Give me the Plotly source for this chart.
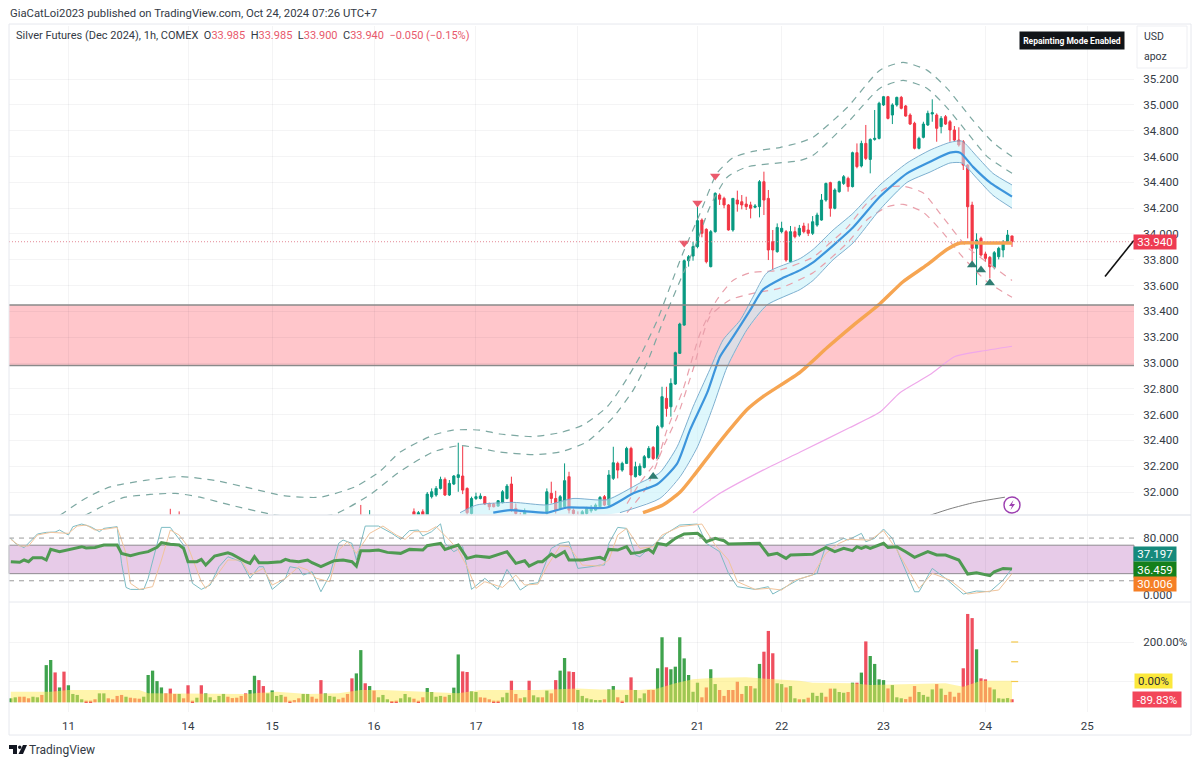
import plotly.graph_objects as go

# ---------- candles (bar index 91..226 + a few earlier tips) ----------
early_x = [36, 38, 79, 81]
early_open = [31.81, 31.80, 31.82, 31.76]
early_high = [31.87, 31.85, 31.90, 31.86]
early_low = [31.70, 31.70, 31.72, 31.70]
early_close = [31.75, 31.74, 31.76, 31.81]

candle_open = [
 31.847,31.80,31.847,31.81,31.964,31.977,32.028,32.098,31.977,32.062,
 32.113,32.124,32.028,31.834,31.95,31.95,31.964,31.912,31.907,31.891,
 31.917,31.95,32.062,31.873,31.81,31.81,31.79,31.75,31.78,31.74,
 31.834,31.99,31.95,31.873,31.886,32.119,31.86,31.82,31.81,31.834,
 31.855,31.86,31.886,31.964,31.899,32.106,32.222,32.17,32.222,32.338,
 32.119,32.132,32.191,32.268,32.346,32.26,32.506,32.726,32.661,32.837,
 33.075,33.294,33.793,33.829,33.902,34.108,34.036,33.747,34.018,34.302,
 34.276,34.225,34.031,34.263,34.25,34.232,34.225,34.207,34.212,34.405,
 34.276,33.94,33.863,34.018,34.018,33.785,34.018,33.992,34.062,34.031,
 34.005,34.069,34.108,34.263,34.398,34.199,34.328,34.392,34.431,34.367,
 34.63,34.527,34.702,34.578,34.733,34.741,35.0,35.064,34.922,35.0,
 35.059,34.992,34.922,34.858,34.664,34.749,34.845,34.93,34.922,34.832,
 34.909,34.87,34.806,34.728,34.715,34.534,34.224,33.889,33.966,33.845,
 33.819,33.741,33.824,33.876,33.927,33.985]
candle_high = [
 31.873,31.853,31.866,32.0,32.028,32.046,32.119,32.113,32.093,32.132,
 32.382,32.356,32.036,31.964,31.995,31.99,31.969,31.917,31.912,31.938,
 32.015,32.062,32.119,31.912,31.84,31.873,31.80,31.79,31.79,31.80,
 32.028,32.08,32.01,31.977,32.222,32.157,31.873,31.85,31.86,31.886,
 31.899,31.912,31.969,31.977,32.17,32.351,32.235,32.235,32.351,32.351,
 32.235,32.222,32.287,32.356,32.356,32.519,32.816,32.816,32.881,33.088,
 33.312,33.803,33.837,33.94,34.25,34.121,34.044,34.031,34.323,34.315,
 34.289,34.232,34.276,34.336,34.302,34.289,34.25,34.232,34.418,34.483,
 34.341,34.031,34.082,34.095,34.031,34.062,34.056,34.07,34.087,34.082,
 34.139,34.165,34.31,34.398,34.405,34.354,34.413,34.457,34.444,34.638,
 34.702,34.723,34.845,34.741,34.961,35.025,35.07,35.07,35.013,35.064,
 35.07,35.0,34.935,34.87,34.754,34.87,34.956,35.044,34.935,34.914,
 34.922,34.883,34.837,34.827,34.728,34.542,34.25,34.005,33.979,33.863,
 33.829,33.868,33.901,33.953,34.031,33.985]
candle_low = [
 31.78,31.78,31.78,31.79,31.95,31.964,32.02,31.969,31.969,32.054,
 32.002,31.984,31.80,31.80,31.938,31.943,31.899,31.86,31.881,31.886,
 31.912,31.943,31.847,31.80,31.77,31.79,31.75,31.73,31.72,31.72,
 31.80,31.912,31.834,31.86,31.873,31.834,31.81,31.79,31.79,31.81,
 31.84,31.855,31.881,31.891,31.891,32.093,32.106,32.157,32.217,31.977,
 32.113,32.124,32.183,32.26,32.248,32.253,32.493,32.584,32.584,32.83,
 33.07,33.289,33.747,33.793,33.889,33.974,33.772,33.741,34.01,34.225,
 34.199,34.026,34.018,34.173,34.191,34.186,34.121,34.199,34.129,34.147,
 33.798,33.72,33.855,34.005,33.785,33.777,33.966,33.979,34.005,33.984,
 33.992,34.056,34.103,34.25,34.134,34.191,34.32,34.38,34.328,34.361,
 34.509,34.516,34.573,34.47,34.723,34.733,34.992,34.888,34.852,34.987,
 34.966,34.909,34.845,34.656,34.656,34.741,34.837,34.87,34.715,34.78,
 34.845,34.715,34.715,34.677,34.496,33.966,33.772,33.604,33.824,33.785,
 33.656,33.726,33.803,33.819,33.922,33.90]
candle_close = [
 31.80,31.84,31.80,31.984,32.002,32.028,32.098,31.977,32.067,32.124,
 32.134,32.015,31.84,31.95,31.964,31.969,31.907,31.886,31.886,31.933,
 32.002,32.046,31.86,31.834,31.79,31.847,31.77,31.78,31.74,31.79,
 32.002,31.95,31.86,31.964,32.088,31.86,31.834,31.80,31.847,31.873,
 31.873,31.899,31.958,31.899,32.132,32.227,32.17,32.222,32.338,32.132,
 32.196,32.201,32.274,32.338,32.26,32.506,32.739,32.648,32.842,33.08,
 33.302,33.793,33.824,33.902,34.103,34.005,33.785,34.018,34.315,34.269,
 34.225,34.031,34.276,34.232,34.225,34.212,34.199,34.217,34.405,34.263,
 33.876,33.876,34.051,34.044,33.798,34.018,33.979,34.044,34.018,34.005,
 34.095,34.147,34.263,34.392,34.199,34.341,34.405,34.444,34.367,34.63,
 34.522,34.702,34.586,34.733,34.741,35.013,35.064,34.896,35.0,35.059,
 34.974,34.914,34.852,34.664,34.741,34.852,34.935,34.94,34.819,34.896,
 34.852,34.806,34.728,34.69,34.534,34.211,33.889,33.953,33.837,33.811,
 33.746,33.855,33.889,33.94,33.992,33.94]

# ---------- overlay lines: bar index, price ----------
env_outer_up_x = [11.1,16.8,22.4,30.3,38.2,46.1,54,61.9,69.8,77.7,83.3,87.9,95.3,99.8,106,110.4,117.9,124,129.2,134.6,138.2,142,145.9,148.8,151.7,155.6,159.4,163,167.5,173.6,178.2,181.1,188.8,196.2,201.4,206.8,211.3,217.2,221.7,226]
env_outer_up = [31.82,31.95,32.04,32.09,32.12,32.09,32.03,31.97,31.96,32.04,32.16,32.31,32.44,32.48,32.48,32.45,32.43,32.46,32.52,32.66,32.83,33.05,33.33,33.59,33.85,34.16,34.47,34.59,34.64,34.67,34.71,34.75,34.98,35.27,35.33,35.27,35.13,34.88,34.71,34.60]
env_inner_up_x = [16.8,21.3,25.8,37.1,42.7,49.5,58.5,65.3,73.2,81.1,87.9,95.3,101.4,110.4,117.9,124,130.1,136,140.5,143.6,147.3,151.1,155,157.8,161.7,166.2,178.2,181.1,188.8,196.2,201.4,206.8,211.3,215.8,220.4,226]
env_inner_up = [31.82,31.90,31.96,31.99,31.96,31.90,31.83,31.80,31.83,31.98,32.16,32.31,32.36,32.31,32.29,32.31,32.39,32.58,32.79,33.0,33.33,33.64,33.95,34.21,34.44,34.52,34.57,34.61,34.86,35.13,35.19,35.13,34.98,34.79,34.60,34.47]
env_inner_dn_x = [139.1,142,145.9,148.1,151.7,155.6,159.4,163,166.9,170.7,173.6,181.1,184.9,188.8,193.3,197.8,201.4,205.9,210.4,215.8,220.4,226]
env_inner_dn = [31.91,32.07,32.25,32.48,32.79,33.23,33.49,33.64,33.70,33.71,33.72,33.82,33.93,34.05,34.24,34.36,34.37,34.32,34.13,33.90,33.78,33.64]
env_outer_dn_x = [139.1,143.6,147.3,150.4,154,157.8,162.4,167.5,173.6,181.1,188.8,193.3,197.8,201.4,205.9,210.4,214.9,220.4,226]
env_outer_dn = [31.84,32.04,32.35,32.58,32.95,33.36,33.49,33.54,33.58,33.70,33.93,34.11,34.21,34.23,34.17,34.01,33.82,33.63,33.51]
basis_x = [108.9,112.7,121,125.6,134.6,140.5,145.9,150.4,153.3,157.2,160.1,163,166.9,169.8,174.3,178.2,181.1,185.6,190.1,196.2,202.3,207.5,212,214.3,217.2,221,226]
basis = [31.84,31.86,31.84,31.88,31.88,31.99,32.06,32.22,32.48,32.77,33.05,33.20,33.41,33.57,33.66,33.72,33.78,33.91,34.05,34.29,34.47,34.56,34.63,34.63,34.52,34.40,34.29]
band_up_x = [101.4,105.2,113.4,121,126.9,134.6,142,146.5,150.4,154,157.8,160.8,164.6,167.5,170.7,178.2,181.1,185.6,190.1,196.2,202.3,207.5,212,214.7,218.1,221.7,226]
band_up = [31.84,31.90,31.92,31.90,31.95,31.94,32.07,32.15,32.35,32.66,32.95,33.18,33.33,33.51,33.70,33.81,33.88,34.03,34.16,34.38,34.55,34.65,34.71,34.72,34.60,34.47,34.38]
band_dn_x = [101.4,120,137.5,146.5,151.1,155,158.5,161.7,166.2,170.7,178.2,181.1,185.6,190.1,196.2,202.3,207.5,212,214.7,218.1,221.7,226]
band_dn = [31.70,31.75,31.84,31.95,32.12,32.35,32.66,32.97,33.26,33.45,33.57,33.64,33.80,33.93,34.19,34.40,34.48,34.55,34.55,34.43,34.30,34.20]
ma_orange_x = [142.7,147.2,151.1,154,157.8,161.7,166.2,169.8,178.2,184.3,190.1,196.2,201.4,206.8,211.3,214.3,218.8,226]
ma_orange = [31.84,31.90,32.0,32.12,32.29,32.46,32.64,32.74,32.93,33.12,33.29,33.46,33.63,33.76,33.88,33.93,33.93,33.93]
ma_pink_x = [154,160.1,169.8,178.2,189.4,196.2,200.7,207.5,213.1,218.8,226]
ma_pink = [31.84,31.99,32.17,32.31,32.50,32.62,32.77,32.91,33.05,33.09,33.13]
ma_grey_x = [207.5,212,217.6,224.4]
ma_grey = [31.82,31.87,31.92,31.96]

sell_x = [152, 155, 159]
sell_y = [33.93, 34.24, 34.45]
buy_x = [145, 217, 219, 221]
buy_y = [32.12, 33.76, 33.72, 33.62]

zone_top, zone_bottom = 33.45, 32.98
last_price = 33.94
trend_x = [247, 253.5]
trend_y = [33.67, 33.95]

# ---------- oscillator pane ----------
rsi_x = [0,2,3,4,5,7,8,9,11,13,15,16,17,19,21,24,25,27,29,31,33,34,36,38,39,40,42,43,44,45,46,49,50,53,54,55,56,58,61,62,63,65,67,68,70,72,73,75,77,78,79,81,83,85,88,90,91,93,94,97,98,101,103,105,108,112,114,116,117,119,120,122,123,125,126,129,133,
         134,135,137,139,140,142,144,145,146,148,150,152,155,156,157,159,161,162,166,169,171,173,175,176,181,183,184,186,188,190,191,192,193,194,197,198,200,202,204,207,209,211,214,216,218,221,222,224,226]
rsi_v = [46.8,45.9,49.2,46.8,52.4,52.4,49.2,64.1,60.9,64.1,66.9,67.9,66,66.9,70.2,70.2,58.5,55.2,58.5,60.9,66.9,73.5,71.2,70.2,65.5,46.8,46.8,50.1,42.1,49.2,54.8,59.4,57.1,46.8,44.5,53.8,45.4,45.4,46.8,50.1,48.2,46.8,49.2,45.4,39.8,45.4,48.2,49.2,46.8,40.7,62.3,62.3,63.2,59.9,58.5,64.1,64.1,63.2,69.3,72.6,64.1,70.2,51.5,54.8,52.9,60.9,44.5,48.2,40.7,46.8,46.8,57.6,53.8,60.9,49.2,49.2,52.9,
         50.1,64.1,63.2,67.9,58.5,59.9,64.1,59.4,72.6,70.2,79.6,85.7,86.6,81.9,74.9,79.6,76.3,71.6,71.6,72.6,56.2,58.5,51.5,56.2,57.1,63.2,66.9,60.9,65.5,62.3,67.9,65.5,67.9,65.5,72.6,66.9,67.9,60.9,52.9,60.9,56.2,56.2,49.2,29.5,31.3,27.1,32.7,37.4,36.46]
stoch_k_x = [0,1,3,4,6,8,10,11,13,14,16,18,20,21,24,25,26,27,30,31,33,34,36,37,39,41,43,45,47,49,52,54,56,57,59,62,63,65,66,68,70,72,74,75,77,78,80,83,86,88,90,92,93,95,97,98,100,102,104,107,110,112,115,117,119,122,124,126,128,131,133,
             134,135,137,139,141,142,144,146,148,151,155,157,160,162,164,168,171,172,175,178,182,184,186,188,189,192,193,195,197,199,201,203,204,205,208,211,215,218,221,224,226]
stoch_k = [79.6,72.6,66.5,72.6,85.7,88,88.5,91.3,84.3,96,99.7,96,89,93.6,96,44.5,10.7,7.9,7.9,23.4,72.6,95,95,86.6,70.2,16.4,7.9,14,39.8,53.8,46.8,23.4,39.8,39.8,7.9,23.4,39.8,37.4,28,32.7,4.6,28,72.6,77.2,72.6,49.2,96.9,96.9,86.6,78.2,90.4,91.3,82.9,89,100,72.6,60.9,67.9,7.9,23.4,7.9,36,7,15.4,17.3,65.5,72.6,74.9,37.4,39.8,42.1,
           42.1,72.6,95,93.6,56.2,53.8,65.5,74.9,86.6,98.3,99.7,72.6,60.9,30.4,11.7,7.9,11.7,1.4,11.7,22.4,30.4,70.2,73.5,79.6,77.2,86.6,74.9,79.6,92.7,79.6,49.2,18.7,4.6,4.6,37.4,23.4,1.4,5.6,4.6,21,37.2]
stoch_d_x = [0,2,4,6,9,11,13,15,17,19,21,24,26,27,29,32,34,36,38,40,43,44,46,49,52,54,57,59,62,65,67,69,72,74,76,78,81,84,87,89,91,94,96,99,101,103,105,107,111,114,116,119,121,124,126,129,133,
             135,137,139,142,145,147,151,156,159,162,164,168,171,174,177,181,184,187,189,194,197,200,203,205,208,212,216,220,223,226]
stoch_d = [78.2,68.8,68.8,84.3,88,87.5,86.6,96.9,98.3,91.3,92.2,95,58.5,16.4,7.9,11.7,49.2,91.3,84.3,67.9,18.7,9.3,23.4,49.2,49.2,28,37.4,14,23.4,39.8,35.1,23.4,18.7,63.2,74.9,58.5,86.6,96.9,84.3,78.2,89,89,96,77.2,63.2,39.8,9.3,18.7,10.7,28,14,15.4,39.8,68.8,67.9,42.1,40.7,
           49.2,84.3,93.6,65.5,67.9,84.3,96,99.7,70.2,49.2,18.7,7.9,9.3,7,21,28,58.5,72.6,78.2,77.2,90.4,63.2,30.4,9.3,30.4,21,1.4,4.6,7,30.0]

# ---------- volume pane (percent, by bar index 0..226) ----------
volume_pct = [
 -85,-80,-77,-77,-85,-77,-80,-68,83,109, 46,-30,50,-19,-63,-68,-90,-97,-97,-90,
 -60,-60,-85,-90,-73,-68,-77,-82,-85,-87, -77,33,55,2,-30,-60,-36,-63,-63,-85,
 -19,-97,-82,-19,-60,-80,-94,-73,-63,-77, -84,-82,-73,-60,-43,29,7,-23,-60,-45,
 -73,-68,-77,-97,-94,-85,-63,-63,-77,-87, 7,-60,-73,-77,-90,-82,-63,16,41,159,
 -9,-23,-46,-80,-68,-90,-99,-97,-85,-63, -80,-87,-97,-80,-33,-53,-77,-73,-77,-68,
 -31,137,51,48,-50,-53,-80,-82,-90,-97, -97,-80,-57,4,-63,-85,-80,4,-70,-80,
 -80,-46,-60,7,55,119,51,48,-43,-73, -85,-90,-94,-94,
 -90,-40,-23,-80,-97,-68,21,-43,-85,-60, -43,-43,67,224,72,62,75,224,117,33,
 -52,-6,-80,-30,62,-13,-43,-73,-43,-43, -1,-63,-23,-23,-35,89,151,256,143,-9,
 -13,-30,-23,-85,-90,-90,-82,-57,-73,-57, -77,-36,-36,-53,-57,-53,-6,-6,45,203,
 129,89,11,7,-35,-18,-80,-85,-89,-77, -23,-53,-68,-77,-40,-13,-36,-68,-52,-77,
 -57,67,342,321,163,16,11,-30,-40,-85, -87,-84,-89.83]
volume_side = list(
 "GGRRRGGRGG" "RGRGGGGRRR" "GGRRRRGRRR" "GGGGGRRRGR" "RRGRGGGGGR" "RRRRGGRRGG"
 "GGRRRRGGRR" "RGGGRRRRGG" "RGRGGGRRGG" "GRRRGGGGRG" "GGRRGGRRRR" "RGGRRRGRGG"
 "RGRRGGRRGG" "GGGG"
 "RGGRRGRGGG" "RRGGRGGGGG" "GGRRGGRRRR" "RRGRGGRRRG" "GRGGRGRGGG" "RRGGGRGRGR"
 "GGGGRGGGRR" "RGGGGRGRRR" "RRRRGRRRGG" "GGR")
volume_floor = -105
vol_ma_x = [0,9,13,29,31,39,53,60,67,74,79,84,93,101,106,119,128,133,142,146,150,154,159,166,169,173,178,181,190,194,211,215,219,226]
vol_ma = [-52,-52,-43,-43,-60,-60,-63,-52,-63,-60,-43,-43,-52,-60,-43,-43,-35,-40,-43,-35,-9,11,19,21,16,11,4,-6,-9,-18,-9,-26,4,4]
vol_scale_marks = [200, 100, 0]

# ---------- axes labels ----------
day_ticks = [13, 40, 59, 82, 105, 128, 155, 174, 197, 220, 243]
day_labels = ["11", "14", "15", "16", "17", "18", "21", "22", "23", "24", "25"]
price_ticks = [32.0,32.2,32.4,32.6,32.8,33.0,33.2,33.4,33.6,33.8,34.0,34.2,34.4,34.6,34.8,35.0,35.2]

# ---------- page geometry ----------
L, R, T, B = 9, 1134, 26, 712
W = R - L
H = B - T
def pxx(x): return (x - L) / W
def pyy(y): return (B - y) / H

GREEN, RED = "#089981", "#f23645"
x_all = list(range(len(volume_pct)))
assert len(volume_pct) == 227 and len(volume_side) == 227
assert len(candle_open) == len(candle_high) == len(candle_low) == len(candle_close) == 136

fig = go.Figure()

def line(x, y, color, width, dash=None, yaxis="y", shape="spline"):
    fig.add_trace(go.Scatter(x=x, y=y, mode="lines", yaxis=yaxis, hoverinfo="skip", showlegend=False,
                             line=dict(color=color, width=width, dash=dash, shape=shape, smoothing=0.6)))

# main pane
fig.add_trace(go.Candlestick(
    x=early_x + list(range(91, 227)),
    open=early_open + candle_open, high=early_high + candle_high,
    low=early_low + candle_low, close=early_close + candle_close,
    increasing=dict(line=dict(color=GREEN, width=1), fillcolor=GREEN),
    decreasing=dict(line=dict(color=RED, width=1), fillcolor=RED),
    whiskerwidth=0, showlegend=False, hoverinfo="skip"))
fig.add_trace(go.Scatter(x=band_up_x + band_dn_x[::-1], y=band_up + band_dn[::-1], mode="lines", fill="toself",
                         fillcolor="rgba(195,240,250,0.55)", line=dict(width=0), hoverinfo="skip", showlegend=False))
line(env_outer_up_x, env_outer_up, "#7da8a2", 1.2, "7px,6px")
line(env_inner_up_x, env_inner_up, "#7da8a2", 1.2, "7px,6px")
line(env_inner_dn_x, env_inner_dn, "#e9a0ab", 1.2, "7px,6px")
line(env_outer_dn_x, env_outer_dn, "#e9a0ab", 1.2, "7px,6px")
line(band_up_x, band_up, "#7fb0d0", 1)
line(band_dn_x[2:], band_dn[2:], "#7fb0d0", 1)
line(basis_x, basis, "#3d95dc", 2.2)
line(ma_orange_x, ma_orange, "#f6a552", 3.4)
line(ma_pink_x, ma_pink, "#efa8ea", 1.2)
line(ma_grey_x, ma_grey, "#7f7f7f", 1)
fig.add_trace(go.Scatter(x=sell_x, y=sell_y, mode="markers", hoverinfo="skip", showlegend=False,
                         marker=dict(symbol="triangle-down", size=9, color="#ea5a6c")))
fig.add_trace(go.Scatter(x=buy_x, y=buy_y, mode="markers", hoverinfo="skip", showlegend=False,
                         marker=dict(symbol="triangle-up", size=9, color="#2f7d72")))
line(trend_x, trend_y, "#111111", 1.6, shape="linear")

# oscillator pane
line(stoch_k_x, stoch_k, "#7dbcc4", 1, yaxis="y2", shape="linear")
line(stoch_d_x, stoch_d, "#f1c49c", 1, yaxis="y2", shape="linear")
line(rsi_x, rsi_v, "#4f9a52", 3, yaxis="y2", shape="linear")

# volume pane
fig.add_trace(go.Bar(x=x_all, y=[v - volume_floor for v in volume_pct], base=volume_floor, yaxis="y3", width=0.74,
                     marker=dict(color=[("#3fa34d" if s == "G" else "#ef4f5f") for s in volume_side], line=dict(width=0)),
                     hoverinfo="skip", showlegend=False))
fig.add_trace(go.Scatter(x=vol_ma_x + vol_ma_x[::-1], y=vol_ma + [volume_floor] * len(vol_ma_x), yaxis="y3", mode="lines",
                         line=dict(width=0), fill="toself", hoverinfo="skip", showlegend=False,
                         fillcolor="rgba(255,236,90,0.5)"))
fig.add_trace(go.Scatter(x=[226.6] * 3, y=vol_scale_marks, yaxis="y3", mode="markers", hoverinfo="skip", showlegend=False,
                         marker=dict(symbol="line-ew", size=5, line=dict(color="#f3c94b", width=1.2))))

GRID = "rgba(42,46,57,0.05)"
TXT = "#2a2e39"
FONT = "Roboto"
axis_font = dict(family=FONT, size=11.5, color="#333a45")

shapes = [
    # zone
    dict(type="rect", xref="paper", yref="y", x0=0, x1=1, y0=zone_bottom, y1=zone_top, layer="below",
         fillcolor="#ffc6cb", line=dict(width=0)),
    dict(type="line", xref="paper", yref="y", x0=0, x1=1, y0=zone_top, y1=zone_top, line=dict(color="#8a8a8a", width=1.5)),
    dict(type="line", xref="paper", yref="y", x0=0, x1=1, y0=zone_bottom, y1=zone_bottom, line=dict(color="#8a8a8a", width=1.5)),
    # last price
    dict(type="line", xref="paper", yref="y", x0=0, x1=1, y0=last_price, y1=last_price, line=dict(color="#e48a96", width=1, dash="1px,2px")),
    # RSI band
    dict(type="rect", xref="paper", yref="y2", x0=0, x1=1, y0=30, y1=70, layer="below",
         fillcolor="#e7cbe8", line=dict(color="#8f8a90", width=1)),
    dict(type="line", xref="paper", yref="y2", x0=0, x1=1, y0=80, y1=80, line=dict(color="#9a9a9a", width=1, dash="5px,5px")),
    dict(type="line", xref="paper", yref="y2", x0=0, x1=1, y0=20, y1=20, line=dict(color="#9a9a9a", width=1, dash="5px,5px")),
    # frames
    dict(type="rect", xref="paper", yref="paper", x0=pxx(9), x1=pxx(1191), y0=pyy(735), y1=pyy(24), line=dict(color="#e6e8ee", width=1)),
    dict(type="line", xref="paper", yref="paper", x0=pxx(9), x1=pxx(1191), y0=pyy(515), y1=pyy(515), line=dict(color="#e6e8ee", width=1.5)),
    dict(type="line", xref="paper", yref="paper", x0=pxx(9), x1=pxx(1191), y0=pyy(602), y1=pyy(602), line=dict(color="#e6e8ee", width=1)),
    # currency box
    dict(type="rect", xref="paper", yref="paper", x0=pxx(1137), x1=pxx(1187), y0=pyy(68), y1=pyy(26), line=dict(color="#eeeff3", width=1)),
    # lightning badge
    dict(type="circle", xref="paper", yref="paper", x0=pxx(1004), x1=pxx(1020), y0=pyy(513), y1=pyy(497), line=dict(color="#9c3fb0", width=1.4)),
    dict(type="path", xref="paper", yref="paper", fillcolor="#9c3fb0", line=dict(width=0),
         path=f"M {pxx(1013.5)} {pyy(500)} L {pxx(1009)} {pyy(506)} L {pxx(1012)} {pyy(506)} L {pxx(1010.5)} {pyy(510)} L {pxx(1015)} {pyy(504)} L {pxx(1012)} {pyy(504)} Z"),
    # logo
    dict(type="path", xref="paper", yref="paper", fillcolor="#131722", line=dict(width=0),
         path=f"M {pxx(9)} {pyy(745)} L {pxx(17)} {pyy(745)} L {pxx(17)} {pyy(754)} L {pxx(13)} {pyy(754)} L {pxx(13)} {pyy(749)} L {pxx(9)} {pyy(749)} Z"),
    dict(type="path", xref="paper", yref="paper", fillcolor="#131722", line=dict(width=0),
         path=f"M {pxx(23)} {pyy(745)} L {pxx(27)} {pyy(745)} L {pxx(23)} {pyy(754)} L {pxx(18.5)} {pyy(754)} Z"),
    dict(type="circle", xref="paper", yref="paper", fillcolor="#131722", line=dict(width=0),
         x0=pxx(18), x1=pxx(21.5), y0=pyy(749), y1=pyy(745.5)),
]

def note(px, py, text, size=11, color=TXT, bg=None, anchor="left", w=None, h=None, align=None):
    a = dict(xref="paper", yref="paper", x=pxx(px), y=pyy(py), text=text, showarrow=False, xanchor=anchor, yanchor="middle",
             font=dict(family=FONT, size=size, color=color), borderpad=0)
    if bg: a["bgcolor"] = bg
    if w: a["width"] = w
    if h: a["height"] = h
    if align: a["align"] = align
    return a

redspan = lambda s: f'<span style="color:#e8596b">{s}</span>'
annotations = [
    note(9, 13, "GiaCatLoi2023 published on TradingView.com, Oct 24, 2024 07:26 UTC+7", 11.3, "#333a45"),
    note(15, 35, "Silver Futures (Dec 2024), 1h, COMEX  O" + redspan("33.985") + "  H" + redspan("33.985") + "  L" + redspan("33.900")
         + "  C" + redspan("33.940") + "  " + redspan("−0.050 (−0.15%)"), 11, "#333a45"),
    note(1072, 40, "<b>Repainting Mode Enabled</b>", 8.5, "#ffffff", "#111418", "center", 104, 17, "center"),
    note(1154, 37, "USD", 10.5, "#333a45", anchor="center"),
    note(1155, 57, "apoz", 10.5, "#333a45", anchor="center"),
    note(1155, 242, "33.940", 11.5, "#ffffff", "#ee3b52", "center", 42, 14, "center"),
    note(1155, 554, "37.197", 11.5, "#ffffff", "#168a7c", "center", 42, 14, "center"),
    note(1155, 569, "36.459", 11.5, "#ffffff", "#15801c", "center", 42, 15, "center"),
    note(1155, 584, "30.006", 11.5, "#ffffff", "#f57f25", "center", 42, 14, "center"),
    note(1153, 681, "0.00%", 11.5, "#2a2e39", "#fbe83c", "center", 37, 14, "center"),
    note(1157, 699, "-89.83%", 11.5, "#ffffff", "#f2465a", "center", 48, 15, "center"),
    note(28, 750, "TradingView", 12, "#333a45"),
]

fig.update_layout(
    width=1200, height=765, autosize=False,
    margin=dict(l=L, r=1200 - R, t=T, b=765 - B, pad=0),
    paper_bgcolor="#ffffff", plot_bgcolor="#ffffff",
    showlegend=False, barmode="overlay",
    font=dict(family=FONT, color=TXT),
    xaxis=dict(range=[-0.41, 253.54], anchor="y3", domain=[0, 1], tickmode="array", tickvals=day_ticks, ticktext=day_labels,
               showgrid=True, gridcolor=GRID, gridwidth=1, zeroline=False, showline=False, ticks="outside", ticklen=3,
               tickcolor="rgba(0,0,0,0)", tickfont=axis_font, rangeslider=dict(visible=False)),
    yaxis=dict(domain=[pyy(515), 1], range=[31.822, 35.612], side="right", anchor="x", tickmode="array", tickvals=price_ticks,
               tickformat=".3f", showgrid=True, gridcolor=GRID, zeroline=False, showline=False, ticks="outside", ticklen=6,
               tickcolor="rgba(0,0,0,0)", tickfont=axis_font),
    yaxis2=dict(domain=[pyy(602), pyy(515)], range=[-9.8, 112.4], side="right", anchor="x", tickmode="array", tickvals=[0, 80],
                tickformat=".3f", showgrid=False, zeroline=False, showline=False, ticks="outside", ticklen=6,
                tickcolor="rgba(0,0,0,0)", tickfont=axis_font),
    yaxis3=dict(domain=[0, pyy(602)], range=[-154.4, 402.5], side="right", anchor="x", tickmode="array", tickvals=[0, 200],
                ticktext=["", "200.00%"], showgrid=True, gridcolor=GRID, zeroline=False, showline=False, ticks="outside", ticklen=6,
                tickcolor="rgba(0,0,0,0)", tickfont=axis_font),
    shapes=shapes, annotations=annotations,
)

fig.write_html("out.html", config={"displayModeBar": False}, post_script="document.body.style.margin='0';")
